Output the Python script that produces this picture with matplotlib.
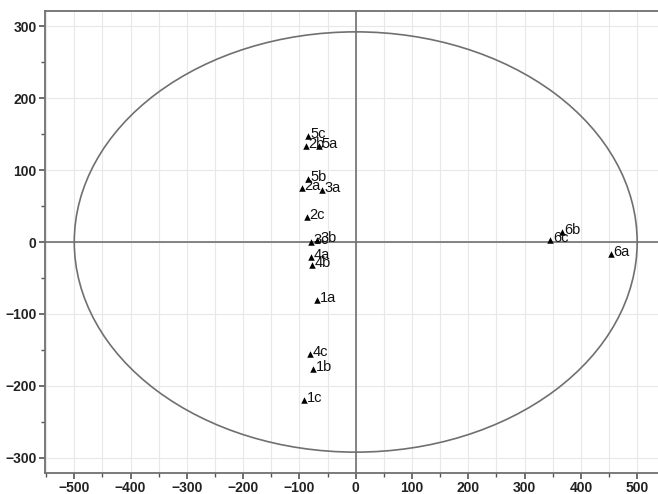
import matplotlib
matplotlib.use("Agg")
import matplotlib.pyplot as plt
from matplotlib.patches import Ellipse
from matplotlib.ticker import MultipleLocator

plt.rcParams['font.family'] = ['Liberation Sans', 'DejaVu Sans']

labels = ["5c", "2b", "5a", "5b", "2a", "3a", "2c", "3c", "3b", "4a", "4b",
          "1a", "4c", "1b", "1c", "6b", "6c", "6a"]
xs = [-85, -89, -66, -85, -96, -60, -87, -80, -68, -80, -78,
      -69, -82, -76, -92, 366, 346, 453]
ys = [147, 133, 133, 87, 75, 72, 35, 0, 3, -21, -32,
      -81, -156, -176, -219, 14, 3, -17]

ellipse_w = 1000
ellipse_h = 584

fig = plt.figure(figsize=(6.58, 4.94), dpi=100)
ax = fig.add_axes([45/658, 21/494, 1 - 45/658, (473-11)/494])

ax.set_xlim(-552, 537)
ax.set_ylim(-321, 321)

ax.xaxis.set_major_locator(MultipleLocator(100))
ax.xaxis.set_minor_locator(MultipleLocator(50))
ax.yaxis.set_major_locator(MultipleLocator(100))
ax.yaxis.set_minor_locator(MultipleLocator(50))

ax.grid(True, which='both', axis='x', color='#e8e8e8', lw=0.8)
ax.grid(True, which='major', axis='y', color='#e8e8e8', lw=0.8)
ax.set_axisbelow(True)

ax.axhline(0, color='#707070', lw=1.2, zorder=1)
ax.axvline(0, color='#707070', lw=1.2, zorder=1)

ax.add_patch(Ellipse((0, 0), ellipse_w, ellipse_h, fill=False,
                     edgecolor='#707070', lw=1.2, zorder=2))

ax.scatter(xs, ys, marker='^', s=22, color='black', zorder=3, linewidths=0)
for lab, x, y in zip(labels, xs, ys):
    ax.annotate(lab, (x, y), xytext=(2, 1.5), textcoords='offset points',
                fontsize=10.5, va='center', ha='left', color='#111111')

for side in ['left', 'bottom', 'top']:
    ax.spines[side].set_color('#707070')
    ax.spines[side].set_linewidth(1.3)
ax.spines['right'].set_visible(False)

ax.tick_params(which='major', length=4, color='#555555', labelsize=10, width=1.2, pad=2)
ax.tick_params(which='minor', length=3, color='#555555', width=1.0)
ax.tick_params(axis='x', which='major', pad=1.5)
for t in ax.get_xticklabels() + ax.get_yticklabels():
    t.set_fontweight('bold')
    t.set_color('#222222')

fig.savefig("out.png", dpi=100)
